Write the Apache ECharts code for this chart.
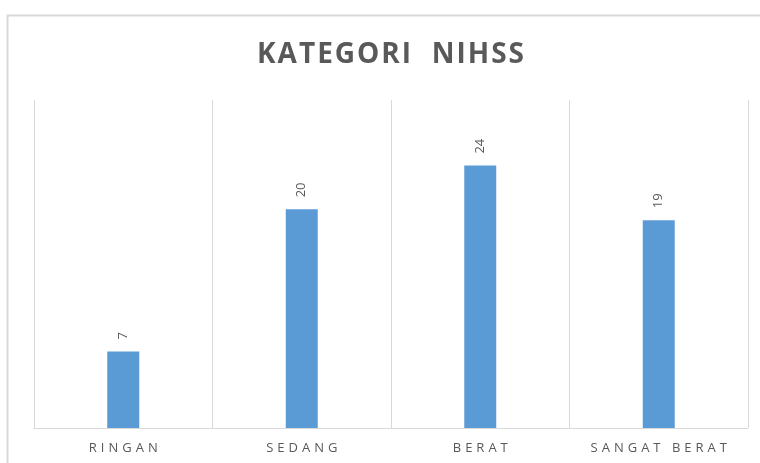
<!DOCTYPE html>
<html>
<head>
<meta charset="utf-8">
<script src="https://cdn.jsdelivr.net/npm/echarts@6/dist/echarts.min.js"></script>
<style>
  html, body { margin: 0; padding: 0; background: #fff; }
  #main { width: 760px; height: 463px; }
</style>
</head>
<body>
<div id="main"></div>
<script>
// data
const categories = ["RINGAN", "SEDANG", "BERAT", "SANGAT BERAT"];
const counts = [7, 20, 24, 19];
const chartTitle = "KATEGORI  NIHSS";

const chartDom = document.getElementById("main");
const myChart = echarts.init(chartDom);

// the original labels are letter-spaced, fake it with padded rich segments
const spaced = (txt, key) =>
  txt.split("").map((ch) => (ch === " " ? "{" + key + "| }" : "{" + key + "|" + ch + "}")).join("");

const option = {
  backgroundColor: "#fff",
  animation: false,
  title: {
    text: spaced(chartTitle, "t"),
    left: 251,
    top: 36,
    textStyle: {
      rich: {
        t: {
          fontFamily: "Open Sans",
          fontSize: 28,
          fontWeight: "bold",
          color: "#595959",
          padding: [0, 1, 0, 1],
        },
      },
    },
  },
  // outer chart border, partly cut off like the screenshot
  graphic: [
    {
      type: "rect",
      shape: { x: 7.5, y: 15.5, width: 800, height: 500 },
      style: { fill: null, stroke: "#d9d9d9", lineWidth: 2 },
      silent: true,
    },
  ],
  grid: { left: 34, right: 12, top: 100, bottom: 35 },
  xAxis: {
    type: "category",
    data: categories,
    axisLine: { lineStyle: { color: "#d9d9d9", width: 1 } },
    axisTick: { show: false, interval: 0 },
    splitLine: { show: true, interval: 0, lineStyle: { color: "#d9d9d9", width: 1 } },
    axisLabel: {
      interval: 0,
      hideOverlap: false,
      margin: 14,
      formatter: (v) => spaced(v, "c"),
      rich: {
        c: {
          color: "#595959",
          fontFamily: "Open Sans",
          fontSize: 13,
          padding: [0, 2, 0, 2],
        },
      },
    },
  },
  yAxis: {
    type: "value",
    min: 0,
    max: 30,
    show: false,
    splitLine: { show: false },
  },
  series: [
    {
      type: "bar",
      data: counts,
      barWidth: 32,
      itemStyle: { color: "#5b9bd5" },
      label: {
        show: true,
        position: "top",
        rotate: 90,
        align: "left",
        verticalAlign: "middle",
        distance: 12,
        color: "#595959",
        fontFamily: "Open Sans",
        fontSize: 13,
      },
    },
  ],
};

option && myChart.setOption(option);
</script>
</body>
</html>
